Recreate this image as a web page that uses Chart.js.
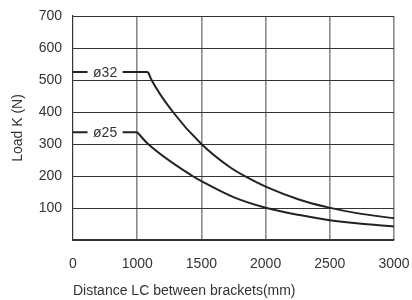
<!DOCTYPE html>
<html lang="en">
<head>
  <meta charset="UTF-8" />
  <title>Load K vs distance between brackets</title>
  <script src="https://cdn.jsdelivr.net/npm/chart.js"></script>
  <style>
    html, body { margin: 0; padding: 0; background: #fff; }
    .chart-box { width: 412px; height: 300px; position: relative; }
  </style>
</head>
<body>
  <div class="chart-box">
    <canvas id="loadChart"></canvas>
  </div>

  <script>
    // values (distance in mm, load in N)
    const diameters = ['ø32', 'ø25'];
    const dist32 = [0, 1085, 1112, 1278, 1500, 1720, 1849, 2000, 2265, 2487, 2710, 3000];
    const load32 = [525, 525, 500, 400, 300, 228, 197, 167, 126, 102, 84, 68];
    const dist25 = [0, 1000, 1085, 1430, 1500, 1750, 2007, 2265, 2500, 2710, 3000];
    const load25 = [337, 337, 300, 200, 184, 134, 100, 78, 62, 52, 42];
    const xTicks = [0, 1000, 1500, 2000, 2500, 3000];
    const yTicks = [100, 200, 300, 400, 500, 600, 700];
    const labelDistance = 500;

    const font = '"Liberation Sans", Arial, sans-serif';
    const textColor = '#333';

    // the axis is broken between 0 and 1000: that stretch takes the room of 500 mm
    function axisPos(d) {
      return d <= 1000 ? 500 + d / 2 : d;
    }
    function axisLabel(v) {
      return v <= 1000 ? (v - 500) * 2 : v;
    }

    function toPoints(xs, ys) {
      return xs.map((d, i) => ({ x: axisPos(d), y: ys[i] }));
    }

    const series = [[dist32, load32], [dist25, load25]];
    const datasets = [];
    series.forEach(([xs, ys], i) => {
      // flat part with a sharp corner, then the falling curve
      datasets.push({
        label: diameters[i] + ' flat',
        data: toPoints(xs.slice(0, 2), ys.slice(0, 2)),
        tension: 0
      });
      datasets.push({
        label: diameters[i],
        data: toPoints(xs.slice(1), ys.slice(1)),
        cubicInterpolationMode: 'monotone'
      });
    });
    datasets.forEach(ds => {
      ds.borderColor = '#222';
      ds.borderWidth = 2;
      ds.pointRadius = 0;
      ds.fill = false;
    });

    const seriesLabels = {
      id: 'seriesLabels',
      afterDatasetsDraw(chart) {
        const { ctx, scales } = chart;
        ctx.save();
        ctx.font = '14px ' + font;
        ctx.textAlign = 'center';
        ctx.textBaseline = 'middle';
        series.forEach(([xs, ys], i) => {
          const x = scales.x.getPixelForValue(axisPos(labelDistance));
          const y = scales.y.getPixelForValue(ys[0]);
          const w = ctx.measureText(diameters[i]).width + 11;
          ctx.fillStyle = '#fff';
          ctx.fillRect(x - w / 2, y - 7, w, 14);
          ctx.fillStyle = textColor;
          ctx.fillText(diameters[i], x, y + 1);
        });
        ctx.restore();
      }
    };

    new Chart(document.getElementById('loadChart'), {
      type: 'line',
      data: { datasets },
      options: {
        responsive: true,
        maintainAspectRatio: false,
        animation: false,
        layout: { padding: { top: 16, right: 18, bottom: 0, left: 0 } },
        plugins: {
          legend: { display: false },
          tooltip: { enabled: false }
        },
        scales: {
          x: {
            type: 'linear',
            min: axisPos(xTicks[0]),
            max: axisPos(xTicks[xTicks.length - 1]),
            afterBuildTicks: scale => {
              scale.ticks = xTicks.map(v => ({ value: axisPos(v) }));
            },
            afterFit: scale => {
              scale.height = 60;
              scale.paddingLeft = 0;
              scale.paddingRight = 0;
            },
            ticks: {
              padding: 16,
              color: textColor,
              font: { family: font, size: 14 },
              callback: v => String(axisLabel(v))
            },
            grid: {
              color: ctx => ctx.index === 0 ? 'rgba(0,0,0,0)' : '#8a8a8a',
              lineWidth: 1.6,
              drawTicks: false
            },
            border: { color: '#333', width: 1.2 },
            title: {
              display: true,
              text: 'Distance LC between brackets(mm)',
              align: 'start',
              color: textColor,
              font: { family: font, size: 14 },
              padding: { top: 10, bottom: 0.4 }
            }
          },
          y: {
            min: 0,
            max: 700,
            afterBuildTicks: scale => {
              scale.ticks = [0].concat(yTicks).map(v => ({ value: v }));
            },
            afterFit: scale => {
              scale.width = 73;
              scale.paddingTop = 0;
              scale.paddingBottom = 0;
            },
            ticks: {
              padding: 11,
              color: textColor,
              font: { family: font, size: 14 },
              callback: v => v === 0 ? '' : String(v)
            },
            grid: {
              color: '#333',
              lineWidth: 1,
              drawTicks: false
            },
            border: { color: '#333', width: 1.2 },
            title: {
              display: true,
              text: 'Load K (N)',
              color: textColor,
              font: { family: font, size: 14 },
              padding: { top: 9.6, bottom: 12.2 }
            }
          }
        }
      },
      plugins: [seriesLabels]
    });
  </script>
</body>
</html>
